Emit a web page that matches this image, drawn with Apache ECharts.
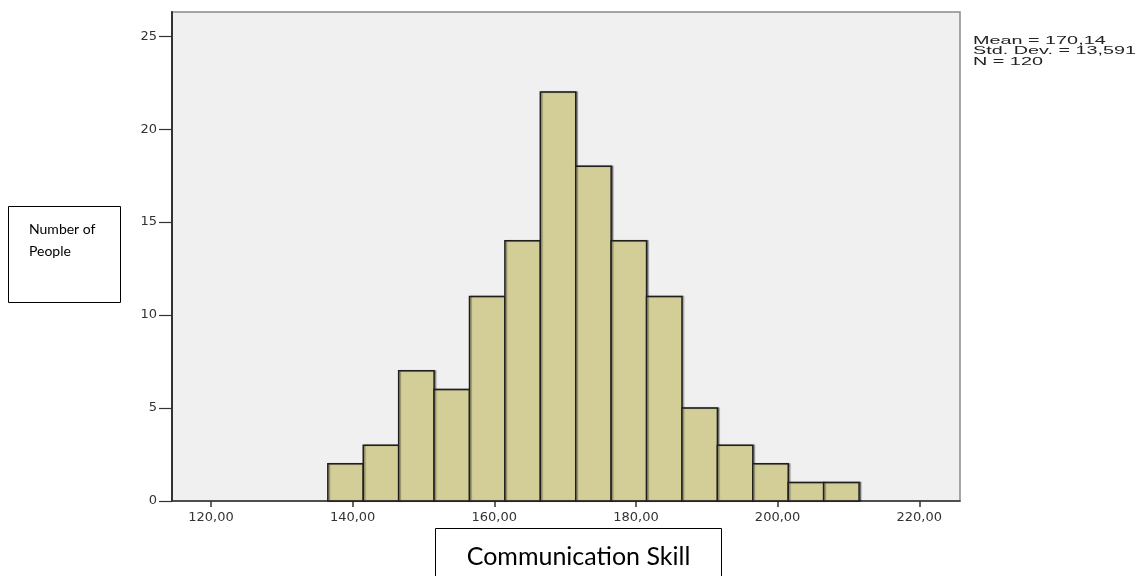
<!DOCTYPE html>
<html>
<head>
<meta charset="utf-8">
<title>Communication Skill histogram</title>
<script src="https://cdn.jsdelivr.net/npm/echarts@6/dist/echarts.min.js"></script>
<style>
  html, body { margin: 0; padding: 0; background: #ffffff; }
  #chart { width: 1140px; height: 576px; }
</style>
</head>
<body>
<div id="chart"></div>
<script>
// Histogram bins: lower edge of each bin and the number of people in it
const binLower = [136.5, 141.5, 146.5, 151.5, 156.5, 161.5, 166.5, 171.5, 176.5, 181.5, 186.5, 191.5, 196.5, 201.5, 206.5];
const counts   = [2, 3, 7, 6, 11, 14, 22, 18, 14, 11, 5, 3, 2, 1, 1];
const binWidth = 5;

// Axis tick values
const xTicks = [120, 140, 160, 180, 200, 220];
const yTicks = [0, 5, 10, 15, 20, 25];

// Summary statistics shown beside the plot
const statsLines = ['Mean = 170,14', 'Std. Dev. = 13,591', 'N = 120'];

const xTitle = 'Communication Skill';
const yTitle = ['Number of', 'People'];

const barData = binLower.map((lo, i) => [lo, lo + binWidth, counts[i]]);

const chart = echarts.init(document.getElementById('chart'), null, { renderer: 'canvas' });

const tickFont = {
  color: '#333333',
  fontFamily: 'DejaVu Sans',
  fontSize: 13
};

chart.setOption({
  animation: false,
  backgroundColor: '#ffffff',
  grid: {
    left: 172, right: 180, top: 12, bottom: 75,
    show: true,
    backgroundColor: '#f0f0f0',
    borderColor: '#8a8a8a',
    borderWidth: 1.5
  },
  xAxis: {
    type: 'value',
    min: 114.5,
    max: 225.75,
    splitLine: { show: false },
    axisLine: { show: true, onZero: false, lineStyle: { color: '#333333', width: 1.5 } },
    axisTick: { show: true, length: 6, customValues: xTicks, lineStyle: { color: '#333333', width: 1.5 } },
    axisLabel: {
      margin: 10,
      customValues: xTicks,
      formatter: v => v.toFixed(2).replace('.', ','),
      ...tickFont
    }
  },
  yAxis: {
    type: 'value',
    min: 0,
    max: 26.3,
    splitLine: { show: false },
    axisLine: { show: true, lineStyle: { color: '#333333', width: 2 } },
    axisTick: { show: true, length: 13, customValues: yTicks, lineStyle: { color: '#333333', width: 1.2 } },
    axisLabel: {
      margin: 15,
      customValues: yTicks,
      formatter: v => String(v),
      ...tickFont
    }
  },
  series: [{
    type: 'custom',
    data: barData,
    encode: { x: [0, 1], y: 2 },
    renderItem: function (params, api) {
      const p0 = api.coord([api.value(0), api.value(2)]);
      const p1 = api.coord([api.value(1), 0]);
      return {
        type: 'rect',
        shape: { x: p0[0], y: p0[1], width: p1[0] - p0[0], height: p1[1] - p0[1] },
        style: {
          fill: '#d3ce97',
          stroke: '#1e1e1e',
          lineWidth: 1.5,
          shadowColor: 'rgba(0,0,0,0.35)',
          shadowOffsetX: 1.5,
          shadowBlur: 1
        }
      };
    }
  }],
  graphic: [
    // summary statistics
    {
      type: 'text',
      left: 973,
      top: 35,
      scaleX: 1.8,
      style: {
        text: statsLines.join('\n'),
        fill: '#222222',
        font: '11px "Liberation Sans"',
        lineHeight: 10.5
      }
    },
    // y-axis title box
    {
      type: 'rect',
      shape: { x: 8.5, y: 206.5, width: 112, height: 96 },
      style: { fill: '#ffffff', stroke: '#000000', lineWidth: 1 }
    },
    {
      type: 'text',
      left: 29,
      top: 218,
      style: {
        text: yTitle.join('\n'),
        fill: '#000000',
        font: '14px Lato',
        lineHeight: 22
      }
    },
    // x-axis title box
    {
      type: 'rect',
      shape: { x: 435.5, y: 528.5, width: 286, height: 60 },
      style: { fill: '#ffffff', stroke: '#000000', lineWidth: 1 }
    },
    {
      type: 'text',
      x: 578.5,
      y: 557,
      style: {
        text: xTitle,
        fill: '#000000',
        font: '25px Lato',
        align: 'center',
        verticalAlign: 'middle'
      }
    }
  ]
});
</script>
</body>
</html>
